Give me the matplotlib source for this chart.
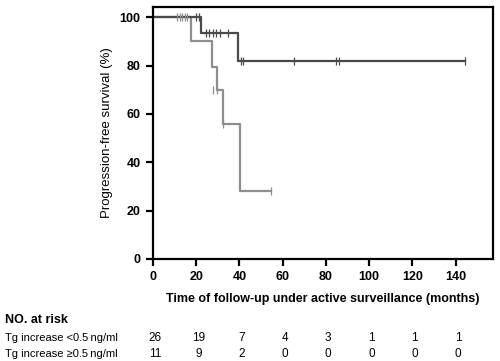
import matplotlib.pyplot as plt
from matplotlib import transforms

plt.rcParams['font.family'] = ['Liberation Sans', 'DejaVu Sans']

# Kaplan-Meier steps
low_t = [0, 22.3, 39.5, 144.5]
low_s = [100, 93.4, 81.7, 81.7]
low_cens_t = [20, 21.5, 24.5, 26, 27.8, 29.3, 31, 34.9, 40.5, 41.7, 65.3, 84.5, 85.9, 144.3]
low_cens_s = [100, 100, 93.4, 93.4, 93.4, 93.4, 93.4, 93.4, 81.7, 81.7, 81.7, 81.7, 81.7, 81.7]

high_t = [0, 17.7, 27.3, 29.5, 32.4, 40.2, 54.4]
high_s = [100, 90, 79.6, 70, 56, 28, 28]
high_cens_t = [11, 12.3, 13.5, 14.9, 15.7, 27.8, 29.8, 32.2, 54.4]
high_cens_s = [100, 100, 100, 100, 100, 70, 70, 56, 28]

xticks = [0, 20, 40, 60, 80, 100, 120, 140]
yticks = [0, 20, 40, 60, 80, 100]
risk_low = [26, 19, 7, 4, 3, 1, 1, 1]
risk_high = [11, 9, 2, 0, 0, 0, 0, 0]
row_labels = ['Tg increase <0.5\u2009ng/ml', 'Tg increase \u22650.5\u2009ng/ml']

dark = '#4a4a4a'
light = '#8e8e8e'

fig = plt.figure(figsize=(5, 3.61), dpi=100)
ax = fig.add_axes([0.306, 0.283, 0.679, 0.698])

ax.step(high_t, high_s, where='post', color=light, lw=1.6)
ax.step(low_t, low_s, where='post', color=dark, lw=1.6)
ax.plot(high_cens_t, high_cens_s, ls='none', marker='|', ms=6, mew=0.9, color=light)
ax.plot(low_cens_t, low_cens_s, ls='none', marker='|', ms=6, mew=0.9, color=dark)

ax.set_xlim(0, 157)
ax.set_ylim(0, 104.3)
ax.set_xticks(xticks)
ax.set_yticks(yticks)
for s in ax.spines.values():
    s.set_linewidth(1.6)
    s.set_color('black')
ax.tick_params(width=1.6, length=5, labelsize=9, pad=4)
for lab in ax.get_xticklabels() + ax.get_yticklabels():
    lab.set_fontweight('bold')

ax.set_ylabel('Progression-free survival (%)', fontsize=9.5, labelpad=5)
ax.set_xlabel('Time of follow-up under active surveillance (months)',
              fontsize=9, fontweight='bold', labelpad=7)

# number at risk table
tr = transforms.blended_transform_factory(ax.transData, fig.transFigure)
fig.text(0.01, 1 - 320 / 361, 'NO. at risk', fontsize=9, fontweight='bold', va='center')
for row, (lab, vals) in enumerate(zip(row_labels, [risk_low, risk_high])):
    y = 1 - (338 + row * 16) / 361
    fig.text(0.01, y, lab, fontsize=8, va='center')
    for x, v in zip(xticks, vals):
        ax.text(x + 1, y, str(v), transform=tr, fontsize=8.5, ha='center', va='center',
                clip_on=False)

fig.savefig('out.png', dpi=100)
